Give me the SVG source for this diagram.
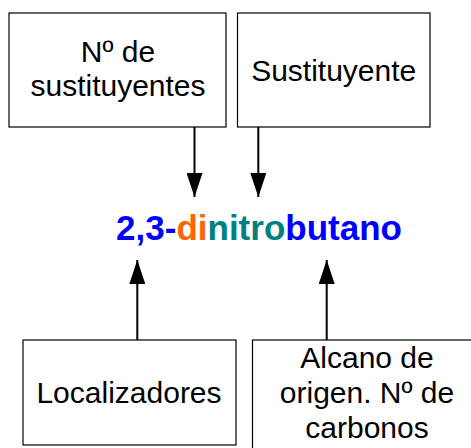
<svg xmlns="http://www.w3.org/2000/svg" width="471" height="448" viewBox="0 0 471 448">
<style>
.box{fill:#fff;stroke:#000;stroke-width:1.2}
.lbl{font-family:"Liberation Sans",Arial,sans-serif;font-size:30px;fill:#000;text-anchor:middle}
.conn{stroke:#000;stroke-width:2;fill:none}
.main{font-family:"Liberation Sans",Arial,sans-serif;font-size:35px;font-weight:bold;text-anchor:middle}
</style>
<defs>
<marker id="ah" markerUnits="userSpaceOnUse" viewBox="0 0 24 16" refX="24" refY="8" markerWidth="24" markerHeight="16" orient="auto">
<path d="M0,0 L24,8 L0,16 Z" fill="#000"/>
</marker>
</defs>
<rect width="471" height="448" fill="#fff"/>
<g id="node-nde">
<rect class="box" x="9" y="13" width="217" height="114"/>
<text class="lbl" x="118" y="62">Nº de</text>
<text class="lbl" x="118" y="96">sustituyentes</text>
</g>
<g id="node-sustituyente">
<rect class="box" x="237.5" y="13" width="192.5" height="114"/>
<text class="lbl" x="333.7" y="81">Sustituyente</text>
</g>
<g id="node-name">
<text class="main" x="259" y="240"><tspan fill="#0000ff">2,3-</tspan><tspan fill="#ff6600">di</tspan><tspan fill="#008080">nitro</tspan><tspan fill="#0000ff">butano</tspan></text>
</g>
<g id="node-localizadores">
<rect class="box" x="23" y="340" width="213" height="105"/>
<text class="lbl" x="129" y="403">Localizadores</text>
</g>
<g id="node-alcano">
<rect class="box" x="252.5" y="340" width="240" height="120"/>
<text class="lbl" x="367" y="368">Alcano de</text>
<text class="lbl" x="367" y="403">origen. Nº de</text>
<text class="lbl" x="367" y="438">carbonos</text>
</g>
<g id="connectors">
<line class="conn" x1="194.5" y1="127" x2="194.5" y2="197" marker-end="url(#ah)"/>
<line class="conn" x1="258.3" y1="127" x2="258.3" y2="197" marker-end="url(#ah)"/>
<line class="conn" x1="137.3" y1="340" x2="137.3" y2="260" marker-end="url(#ah)"/>
<line class="conn" x1="326.7" y1="340" x2="326.7" y2="260" marker-end="url(#ah)"/>
</g>
</svg>
